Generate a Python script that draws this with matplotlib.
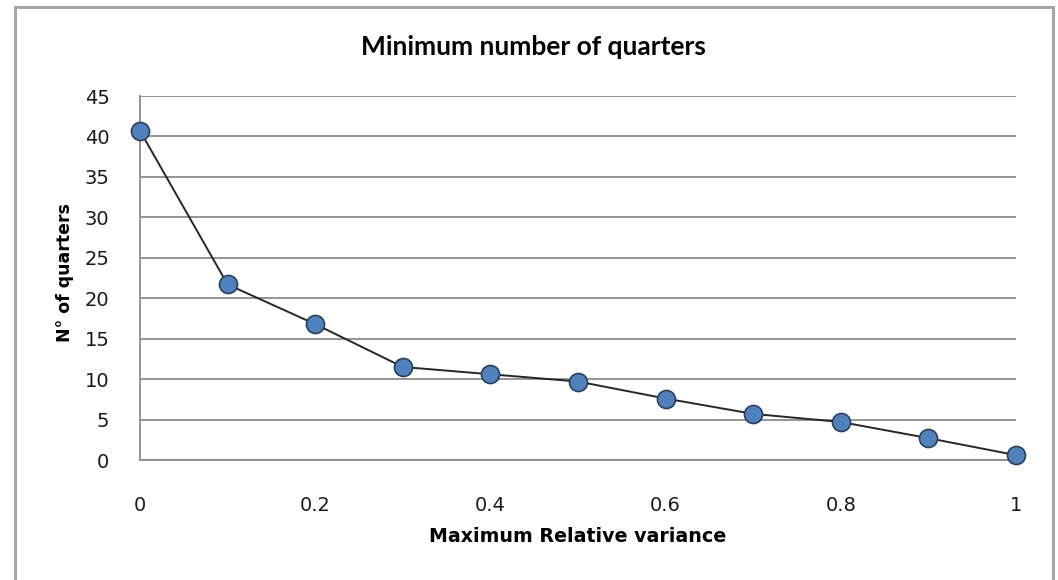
import matplotlib.pyplot as plt
from matplotlib.patches import Rectangle

# --- data ---
max_rel_variance = [0, 0.1, 0.2, 0.3, 0.4, 0.5, 0.6, 0.7, 0.8, 0.9, 1.0]
n_quarters = [40.7, 21.7, 16.8, 11.5, 10.6, 9.7, 7.6, 5.7, 4.7, 2.7, 0.6]
x_ticks = [0, 0.2, 0.4, 0.6, 0.8, 1.0]
x_tick_labels = ["0", "0.2", "0.4", "0.6", "0.8", "1"]
y_ticks = [0, 5, 10, 15, 20, 25, 30, 35, 40, 45]

plt.rcParams['font.family'] = ['DejaVu Sans']

fig = plt.figure(figsize=(10.58, 5.8), dpi=100)

# chart border (Excel style, bottom edge falls outside the picture)
fig.patches.append(Rectangle((15 / 1058, -0.05), (1053 - 15) / 1058, 1.05 - 7 / 580,
                             transform=fig.transFigure, fill=False,
                             edgecolor="#a6a6a6", linewidth=2.2))

ax = fig.add_axes([140 / 1058, 1 - 460 / 580, (1016 - 140) / 1058, (460 - 96) / 580])

ax.plot(max_rel_variance, n_quarters, color="#262626", linewidth=1.4,
        marker="o", markersize=13, markerfacecolor="#4f81bd",
        markeredgecolor="#2a3f5a", markeredgewidth=1.2, clip_on=False, zorder=3)

ax.set_xlim(0, 1)
ax.set_ylim(0, 45)
ax.set_xticks(x_ticks)
ax.set_xticklabels(x_tick_labels)
ax.set_yticks(y_ticks)

ax.grid(axis="y", color="#8c8c8c", linewidth=1.3)
ax.set_axisbelow(True)
for s in ["top", "right"]:
    ax.spines[s].set_visible(False)
for s in ["left", "bottom"]:
    ax.spines[s].set_color("#8c8c8c")
    ax.spines[s].set_linewidth(1.3)

ax.tick_params(axis="both", length=0, labelsize=14, labelcolor="#1a1a1a")
ax.tick_params(axis="x", pad=26)
ax.tick_params(axis="y", pad=22)

fig.text(533 / 1058, 1 - 47 / 580, "Minimum number of quarters",
         ha="center", va="center", fontsize=19, fontweight="bold",
         family=["Lato", "DejaVu Sans"])
fig.text(578 / 1058, 1 - 536 / 580, "Maximum Relative variance",
         ha="center", va="center", fontsize=13.7, fontweight="bold")
fig.text(65 / 1058, 1 - 272 / 580, "N° of quarters", rotation=90,
         ha="center", va="center", fontsize=12.5, fontweight="bold")

fig.savefig("out.png", dpi=100, facecolor="white")
